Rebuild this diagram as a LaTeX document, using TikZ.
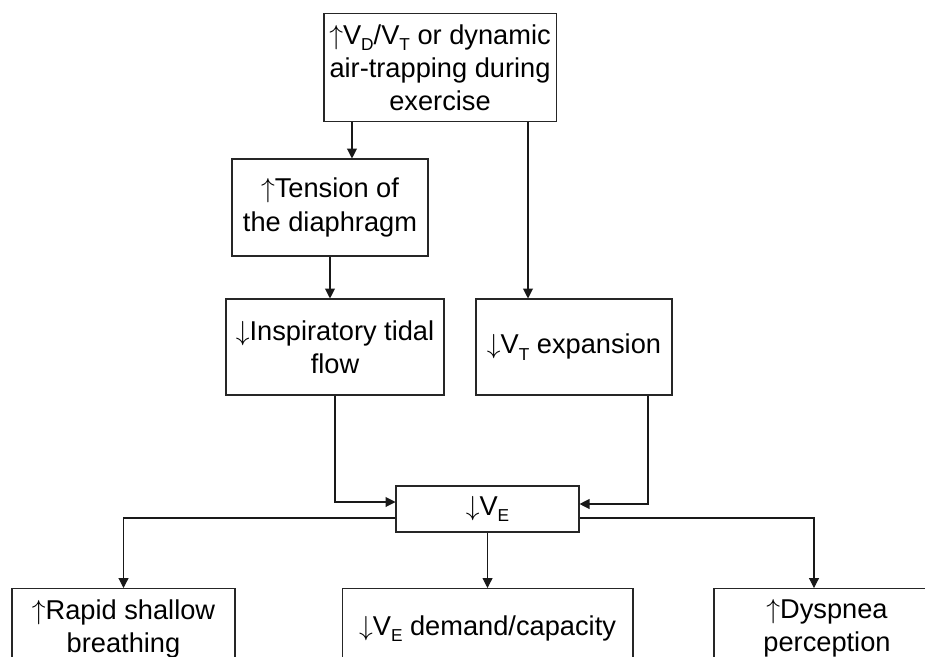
\documentclass[tikz,border=0pt]{standalone}
\usepackage{fontspec}
\setmainfont{Liberation Sans}
\usepackage{tikz}
\usetikzlibrary{arrows.meta,calc}

\newcommand{\lowsub}[1]{\raisebox{-5pt}{\fontsize{13}{13}\selectfont #1}}
\newcommand{\up}{$\uparrow$}
\newcommand{\down}{$\downarrow$}

\tikzset{
  box/.style={draw=black!85, line width=0.8pt, rectangle, inner sep=0pt, align=center,
    font=\fontsize{20.5}{25}\selectfont},
  arr/.style={-{Triangle[width=7.5pt,length=7.5pt]}, line width=0.8pt, black!90}
}

\begin{document}
\begin{tikzpicture}
\useasboundingbox (0,0) rectangle (24.474,-17.357);
\clip (0,0) rectangle (24.474,-17.357);

% Causes
\node[box, minimum width=6.14cm, minimum height=2.88cm] (top) at (11.642,-1.786)
  {\up V\lowsub{D}/V\lowsub{T} or dynamic\\air-trapping during\\exercise};
\node[box, minimum width=5.186cm, minimum height=2.566cm] (tension) at (8.731,-5.490)
  {\up Tension of\\the diaphragm};
\node[box, minimum width=5.768cm, minimum height=2.54cm] (insp) at (8.864,-9.181)
  {\down Inspiratory tidal\\flow};
\node[box, minimum width=5.186cm, minimum height=2.54cm] (vt) at (15.187,-9.181)
  {\down V\lowsub{T} expansion};

% Reduced ventilation
\node[box, minimum width=4.842cm, minimum height=1.217cm] (ve) at (12.899,-13.467)
  {\down V\lowsub{E}};

% Consequences
\node[box, anchor=north, minimum width=5.9cm, minimum height=2.117cm] (rsb) at (3.268,-15.558)
  {\up Rapid shallow\\breathing};
\node[box, anchor=north, minimum width=7.699cm, minimum height=2.117cm] (dem) at (12.899,-15.558)
  {\down V\lowsub{E} demand/capacity};
\node[box, anchor=north, minimum width=5.98cm, minimum height=2.117cm] (dysp) at (21.881,-15.558)
  {\up Dyspnea\\perception};

\coordinate (c1) at (9.313,0);
\coordinate (c2) at (13.970,0);
\coordinate (c3) at (17.145,0);
\coordinate (c4) at (21.537,0);

\draw[arr] (top.south -| c1) -- (tension.north -| c1);
\draw[arr] (top.south -| c2) -- (vt.north -| c2);
\draw[arr] (tension.south) -- (tension.south |- insp.north);
\draw[arr] (insp.south) |- ([yshift=0.185cm]ve.west);
\draw[arr] (vt.south -| c3) |- ([yshift=0.132cm]ve.east);
\draw[arr] ([yshift=-0.238cm]ve.west) -| (rsb.north);
\draw[arr] (ve.south) -- (dem.north);
\draw[arr] ([yshift=-0.238cm]ve.east) -| (dysp.north -| c4);
\end{tikzpicture}
\end{document}
